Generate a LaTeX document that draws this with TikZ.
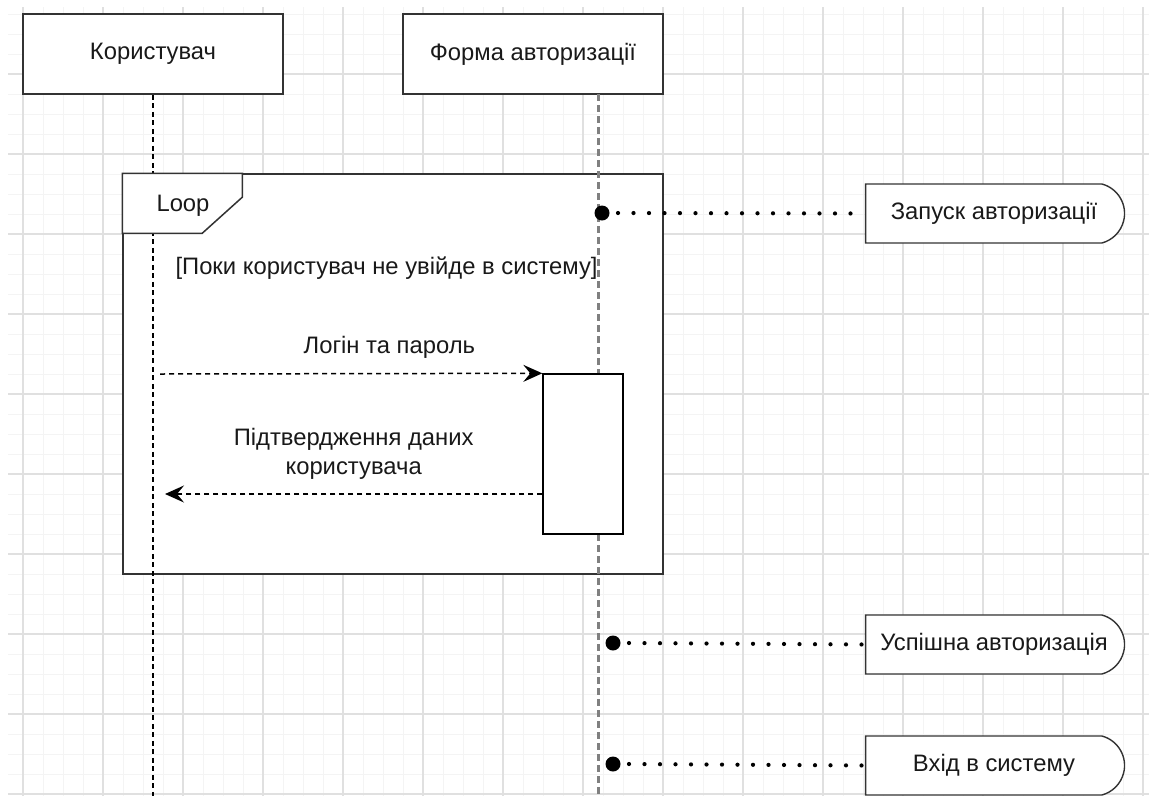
\documentclass[tikz,border=0pt]{standalone}
\usepackage{fontspec}
\setmainfont{Liberation Sans}
\usetikzlibrary{positioning, shapes.misc, arrows.meta}

\definecolor{minorgrid}{HTML}{F4F4F4}
\definecolor{majorgrid}{HTML}{E0E0E0}
\definecolor{edge}{HTML}{333333}

\tikzset{
  txt/.style={font=\fontsize{23.8}{29}\selectfont, text=black!90},
  actor/.style={txt, draw=edge, line width=1.5pt, fill=white, minimum width=260pt, minimum height=80pt},
  frame/.style={draw=edge, line width=1.5pt, fill=white, minimum width=540pt, minimum height=400pt},
  actbar/.style={draw=black, line width=1.4pt, fill=white, minimum width=80pt, minimum height=160pt},
  state/.style={txt, draw=edge, line width=1.4pt, fill=white, rounded rectangle, rounded rectangle left arc=none, rounded rectangle arc length=150, minimum width=267pt, minimum height=59pt, inner xsep=4pt},
  lifeA/.style={black, line width=1.6pt, dash pattern=on 5pt off 3.5pt},
  lifeB/.style={black!50, line width=3pt, dash pattern=on 7pt off 4pt},
  msg/.style={line width=1.5pt, dash pattern=on 5pt off 4pt, -{Stealth[length=19pt, width=17pt, inset=7pt]}},
  link/.style={line width=4.2pt, line cap=round, dash pattern=on 0pt off 15.5pt},
  dotmark/.style={circle, fill=black, inner sep=0pt, minimum size=15pt}
}

\begin{document}
\begin{tikzpicture}[x=1pt, y=-1pt]
  \useasboundingbox (0,0) rectangle (1149,796);
  % grid
  \foreach \x in {23,43,...,1143}
    \draw[minorgrid, line width=1pt] (\x,7) -- (\x,796);
  \foreach \y in {14,34,...,794}
    \draw[minorgrid, line width=1pt] (8,\y) -- (1149,\y);
  \foreach \x in {23,103,...,1143}
    \draw[majorgrid, line width=1.4pt] (\x,7) -- (\x,796);
  \foreach \y in {74,154,...,794}
    \draw[majorgrid, line width=1.4pt] (8,\y) -- (1149,\y);

  % loop frame
  \node[frame] (loop) at (393,374) {};

  % lifelines
  \node[actor] (user) at (153,54) {Користувач};
  \node[actor] (form) at (533,54) {Форма авторизації};
  \coordinate (userend) at (153,796);
  \coordinate (formtop) at (598,94);
  \coordinate (formend) at (598,796);
  \draw[lifeA] (user.south) -- (userend);
  \draw[lifeB] (formtop) -- (formend);

  \draw[edge, line width=1.5pt, fill=white] (loop.north west) -- ++(120,0) -- ++(0,24) -- ++(-40,36) -- ++(-80,0) -- cycle;
  \node[txt] (looptag) at (183,206) {Loop};
  \node[txt, anchor=west] (guard) at (172,268) {[Поки користувач не увійде в систему]};

  % activation
  \node[actbar] (act) at (583,454) {};

  % messages
  \coordinate (m1) at (160,374);
  \coordinate (m2) at (165,494);
  \draw[msg] (m1) -- node[txt, pos=0.6, above=11pt] {Логін та пароль} (act.north west);
  \draw[msg] (act.west |- m2) -- node[txt, align=center, above=10pt] {Підтвердження даних\\користувача} (m2);

  % states
  \node[state] (start) at (994,213.5) {Запуск авторизації};
  \node[state] (ok) at (994,644.5) {Успішна авторизація};
  \node[state] (enter) at (994,765.5) {Вхід в систему};
  \node[dotmark] (d1) at (602,213) {};
  \node[dotmark] (d2) at (613,643) {};
  \node[dotmark] (d3) at (613,764) {};
  \draw[link] ([xshift=16pt]d1.center) -- (start.west);
  \draw[link] ([xshift=16pt]d2.center) -- (ok.west);
  \draw[link] ([xshift=16pt]d3.center) -- (enter.west);
\end{tikzpicture}
\end{document}
